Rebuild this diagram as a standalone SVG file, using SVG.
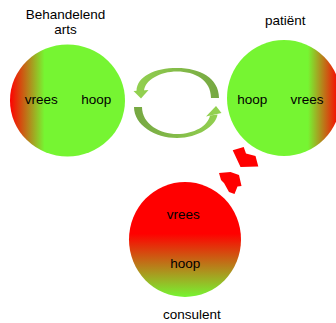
<svg xmlns="http://www.w3.org/2000/svg" width="336" height="323" viewBox="0 0 336 323">
<defs>
<linearGradient id="gL" x1="0" y1="0" x2="1" y2="0"><stop offset="0" stop-color="#FF0000"/><stop offset="0.3" stop-color="#76F532"/><stop offset="1" stop-color="#76F532"/></linearGradient>
<linearGradient id="gR" x1="0" y1="0" x2="1" y2="0"><stop offset="0" stop-color="#76F532"/><stop offset="0.71" stop-color="#76F532"/><stop offset="0.98" stop-color="#FF0000"/></linearGradient>
<linearGradient id="gB" x1="0" y1="0" x2="0" y2="1"><stop offset="0" stop-color="#FF0000"/><stop offset="0.45" stop-color="#FF0000"/><stop offset="1" stop-color="#76F532"/></linearGradient>
<linearGradient id="gUp" x1="0" y1="0" x2="1" y2="0"><stop offset="0" stop-color="#92D050"/><stop offset="1" stop-color="#76A742"/></linearGradient>
<linearGradient id="gLo" x1="0" y1="0" x2="1" y2="0"><stop offset="0" stop-color="#76A742"/><stop offset="1" stop-color="#92D050"/></linearGradient>
</defs>
<style>
.t{font-family:"Liberation Sans",Arial,sans-serif;font-size:13.5px;fill:#000;text-anchor:middle}
.ra{fill:#FF0000}
</style>
<g id="connectors">
<g id="cycle-upper">
<path d="M211,98 C211,80 195,71.5 177,71.5 C160,71.5 145,80 144,91 L136.5,91 C137,76 155,68 177,68 C200,68 219,78 219,98 Z" fill="url(#gUp)"/>
<path d="M133.5,91 L148.5,90 L141,98.5 Z" fill="#92D050"/>
</g>
<g id="cycle-lower">
<path d="M134,107 C134,125 155,138 177,138 C198,138 216,126 217.5,114.5 L210,115.5 C208,126 194,134 177,134 C160,134 142,124 142,107 Z" fill="url(#gLo)"/>
<path d="M206,116.5 L221.5,113 L216,106 Z" fill="#92D050"/>
</g>
<polygon class="ra" points="232.7,150.3 243.7,147 246,153.5 255.5,156 258.3,166.5 240.5,167"/>
<polygon class="ra" points="219,173 230.5,172 239,175 241.5,186 237.5,186.5 234.5,194 229,192 224,183 221,180"/>
</g>
<g id="behandelend-arts">
<ellipse cx="67.5" cy="100.5" rx="57.5" ry="56" fill="url(#gL)"/>
<text class="t" x="65.5" y="19.3">Behandelend</text>
<text class="t" x="65.5" y="34.3">arts</text>
<text class="t" x="41.2" y="104">vrees</text>
<text class="t" x="96.2" y="104">hoop</text>
</g>
<g id="patient">
<ellipse cx="284" cy="98" rx="57" ry="58" fill="url(#gR)"/>
<text class="t" x="285.2" y="24.5">patiënt</text>
<text class="t" x="252.2" y="104">hoop</text>
<text class="t" x="307" y="104">vrees</text>
</g>
<g id="consulent">
<ellipse cx="185" cy="239.5" rx="56" ry="57.5" fill="url(#gB)"/>
<text class="t" x="183.3" y="219">vrees</text>
<text class="t" x="185.2" y="268">hoop</text>
<text class="t" x="191.8" y="318.5">consulent</text>
</g>
</svg>
